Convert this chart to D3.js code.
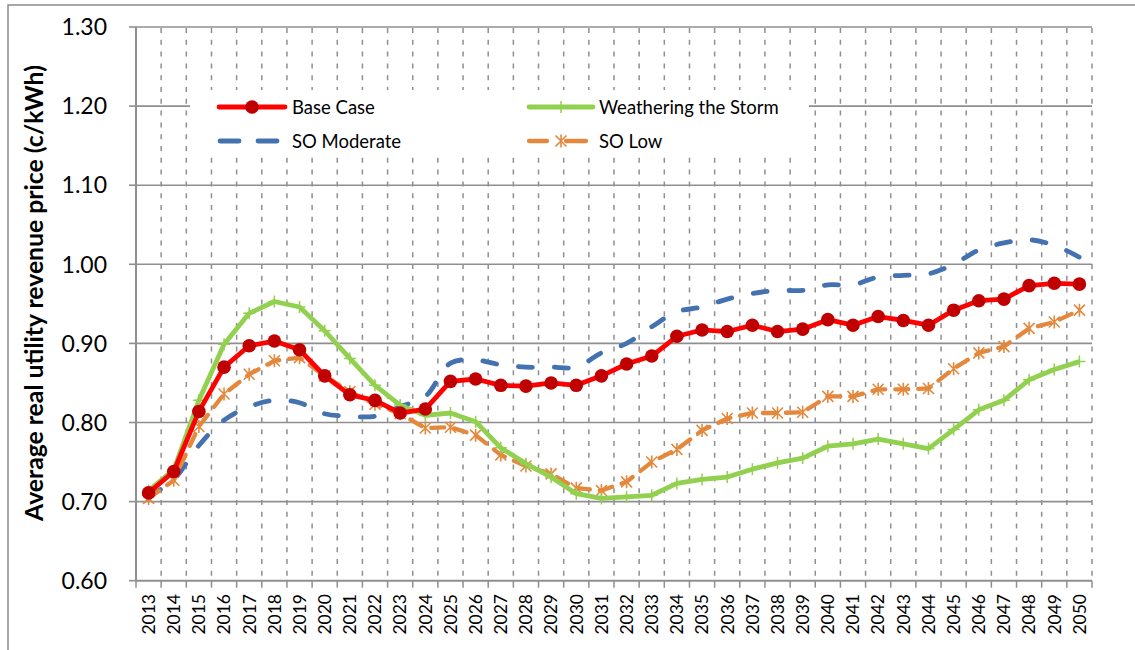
<!DOCTYPE html>
<html>
<head>
<meta charset="utf-8">
<script src="https://cdn.jsdelivr.net/npm/d3@7"></script>
<style>
  html, body { margin: 0; padding: 0; background: #fff; }
  svg { display: block; }
  text { font-family: Lato, "Open Sans", sans-serif; fill: #000; }
</style>
</head>
<body>
<svg id="chart" width="1135" height="650"></svg>
<script>
// ---- data ----
const years = d3.range(2013, 2051).map(String);
const baseCase = [0.711,0.738,0.814,0.870,0.897,0.903,0.892,0.859,0.835,0.828,0.812,0.817,0.852,0.855,
  0.847,0.846,0.850,0.847,0.859,0.874,0.884,0.909,0.917,0.915,0.923,0.915,0.918,0.930,0.923,0.934,
  0.929,0.923,0.942,0.954,0.956,0.973,0.976,0.975];
const weathering = [0.714,0.740,0.828,0.899,0.938,0.953,0.946,0.916,0.881,0.847,0.822,0.809,0.812,0.801,
  0.768,0.748,0.731,0.710,0.704,0.706,0.708,0.723,0.728,0.731,0.741,0.749,0.755,0.770,0.773,0.779,
  0.773,0.767,0.791,0.816,0.828,0.854,0.867,0.877];
const soModerate = [0.706,0.728,0.771,0.803,0.820,0.828,0.825,0.811,0.808,0.808,0.820,0.833,0.875,0.879,
  0.873,0.870,0.870,0.870,0.888,0.900,0.921,0.940,0.946,0.956,0.963,0.967,0.967,0.974,0.974,0.984,
  0.986,0.988,1.000,1.018,1.027,1.031,1.024,1.009];
const soLow = [0.704,0.727,0.795,0.836,0.861,0.878,0.882,0.859,0.839,0.823,0.811,0.793,0.794,0.784,
  0.759,0.745,0.735,0.717,0.714,0.725,0.750,0.766,0.790,0.805,0.812,0.812,0.813,0.833,0.833,0.842,
  0.842,0.843,0.868,0.888,0.896,0.919,0.927,0.942];
const yTicks = [0.60,0.70,0.80,0.90,1.00,1.10,1.20,1.30];
const seriesNames = ["Base Case","Weathering the Storm","SO Moderate","SO Low"];
const yTitle = "Average real utility revenue price (c/kWh)";

// ---- layout ----
const L = 136, R = 1092, T = 27, B = 580.7;
const svg = d3.select("#chart");
const x = d3.scaleBand().domain(years).range([L, R]).paddingInner(0).paddingOuter(0);
const y = d3.scaleLinear().domain([0.6, 1.3]).range([B, T]);
const cx = d => x(d) + x.bandwidth() / 2;
const gridCol = "#8f8f8f";

// outer frame
svg.append("path").attr("d", `M8,652 L8,5 L1140,5`).attr("fill", "none")
  .attr("stroke", "#8c8c8c").attr("stroke-width", 1.5);

// vertical dashed gridlines at category boundaries
const bounds = years.map((d, i) => x(d) + x.bandwidth());
svg.append("g").selectAll("line").data(bounds).join("line")
  .attr("x1", d => d).attr("x2", d => d).attr("y1", T + 1).attr("y2", B)
  .attr("stroke", gridCol).attr("stroke-width", 1.5).attr("stroke-dasharray", "5,6.8");
// tick marks below x axis
svg.append("g").selectAll("line").data([L].concat(bounds)).join("line")
  .attr("x1", d => d).attr("x2", d => d).attr("y1", B).attr("y2", B + 7)
  .attr("stroke", gridCol).attr("stroke-width", 1.5);

// horizontal gridlines
svg.append("g").selectAll("line").data(yTicks.slice(1)).join("line")
  .attr("x1", L).attr("x2", R).attr("y1", d => y(d)).attr("y2", d => y(d))
  .attr("stroke", gridCol).attr("stroke-width", 1.6);
// y ticks
svg.append("g").selectAll("line").data(yTicks).join("line")
  .attr("x1", L - 7).attr("x2", L).attr("y1", d => y(d)).attr("y2", d => y(d))
  .attr("stroke", gridCol).attr("stroke-width", 1.6);
// axes
svg.append("line").attr("x1", L).attr("x2", L).attr("y1", T).attr("y2", B)
  .attr("stroke", gridCol).attr("stroke-width", 2);
svg.append("line").attr("x1", L).attr("x2", R).attr("y1", B).attr("y2", B)
  .attr("stroke", gridCol).attr("stroke-width", 2);

// y tick labels
svg.append("g").selectAll("text").data(yTicks).join("text")
  .attr("x", 107).attr("y", d => y(d)).attr("dy", "0.36em")
  .attr("text-anchor", "end").style("font-size", "23px")
  .text(d => d.toFixed(2));
// x tick labels
svg.append("g").selectAll("text").data(years).join("text")
  .attr("transform", d => `translate(${cx(d)},594) rotate(-90)`)
  .attr("dy", "0.36em").attr("text-anchor", "end").style("font-size", "17.5px")
  .text(d => d);
// y title (sized to span the same height as the original)
const title = svg.append("text").attr("transform", "translate(43,293) rotate(-90)")
  .attr("text-anchor", "middle").style("font-size", "20px").style("font-weight", "bold")
  .text(yTitle);
const tl = title.node().getComputedTextLength();
title.style("font-size", (20 * 456 / tl).toFixed(2) + "px");

// legend background
svg.append("rect").attr("x", 190).attr("y", 90).attr("width", 619).attr("height", 67).attr("fill", "#fff");

// ---- series ----
const colRed = "#FF0000", colDot = "#C00000", colGreen = "#92D050", colBlue = "#4472B0", colOrange = "#E3883C";
const lineStraight = d3.line().x((d, i) => cx(years[i])).y(d => y(d));
const lineSmooth = d3.line().x((d, i) => cx(years[i])).y(d => y(d)).curve(d3.curveCatmullRom.alpha(0.5));

// SO Moderate
svg.append("path").attr("d", lineSmooth(soModerate)).attr("fill", "none")
  .attr("stroke", colBlue).attr("stroke-width", 4.8).attr("stroke-dasharray", "14,22")
  .attr("stroke-linecap", "round");
// SO Low
svg.append("path").attr("d", lineStraight(soLow)).attr("fill", "none")
  .attr("stroke", colOrange).attr("stroke-width", 4.3).attr("stroke-dasharray", "13,10")
  .attr("stroke-linecap", "round");
const star = (g, px, py, s, col) => {
  g.append("path").attr("d", `M${px-s},${py-s}L${px+s},${py+s}M${px-s},${py+s}L${px+s},${py-s}M${px},${py-s-1}L${px},${py+s+1}`)
    .attr("stroke", col).attr("stroke-width", 1.6).attr("fill", "none");
};
const gLow = svg.append("g");
soLow.forEach((v, i) => star(gLow, cx(years[i]), y(v), 5.5, colOrange));

// Weathering the Storm
svg.append("path").attr("d", lineStraight(weathering)).attr("fill", "none")
  .attr("stroke", colGreen).attr("stroke-width", 4.8).attr("stroke-linejoin", "round");
svg.append("g").selectAll("path").data(weathering).join("path")
  .attr("d", (d, i) => { const px = cx(years[i]), py = y(d); return `M${px},${py-6}L${px},${py+6}M${px-6},${py}L${px+6},${py}`; })
  .attr("stroke", colGreen).attr("stroke-width", 1.5);

// Base Case
svg.append("path").attr("d", lineStraight(baseCase)).attr("fill", "none")
  .attr("stroke", colRed).attr("stroke-width", 4.8).attr("stroke-linejoin", "round");
svg.append("g").selectAll("circle").data(baseCase).join("circle")
  .attr("cx", (d, i) => cx(years[i])).attr("cy", d => y(d)).attr("r", 6.8).attr("fill", colDot);

// ---- legend ----
const lg = svg.append("g");
const r1 = 107, r2 = 141, fs = "18.5px";
lg.append("line").attr("x1", 219).attr("x2", 285).attr("y1", r1).attr("y2", r1)
  .attr("stroke", colRed).attr("stroke-width", 4.8).attr("stroke-linecap", "round");
lg.append("circle").attr("cx", 252).attr("cy", r1).attr("r", 6.8).attr("fill", colDot);
lg.append("text").attr("x", 292).attr("y", r1).attr("dy", "0.36em").style("font-size", fs).text(seriesNames[0]);

lg.append("line").attr("x1", 220).attr("x2", 239).attr("y1", r2).attr("y2", r2)
  .attr("stroke", colBlue).attr("stroke-width", 4.8).attr("stroke-linecap", "round");
lg.append("line").attr("x1", 258).attr("x2", 277).attr("y1", r2).attr("y2", r2)
  .attr("stroke", colBlue).attr("stroke-width", 4.8).attr("stroke-linecap", "round");
lg.append("text").attr("x", 292).attr("y", r2).attr("dy", "0.36em").style("font-size", fs).text(seriesNames[2]);

lg.append("line").attr("x1", 529).attr("x2", 593).attr("y1", r1).attr("y2", r1)
  .attr("stroke", colGreen).attr("stroke-width", 4.8).attr("stroke-linecap", "round");
lg.append("path").attr("d", `M561,${r1-6}L561,${r1+6}`).attr("stroke", colGreen).attr("stroke-width", 1.5);
lg.append("text").attr("x", 599).attr("y", r1).attr("dy", "0.36em").style("font-size", fs).text(seriesNames[1]);

lg.append("line").attr("x1", 529).attr("x2", 547).attr("y1", r2).attr("y2", r2)
  .attr("stroke", colOrange).attr("stroke-width", 4.3).attr("stroke-linecap", "round");
lg.append("line").attr("x1", 566).attr("x2", 586).attr("y1", r2).attr("y2", r2)
  .attr("stroke", colOrange).attr("stroke-width", 4.3).attr("stroke-linecap", "round");
star(lg, 561, r2, 5.5, colOrange);
lg.append("text").attr("x", 599).attr("y", r2).attr("dy", "0.36em").style("font-size", fs).text(seriesNames[3]);
</script>
</body>
</html>
